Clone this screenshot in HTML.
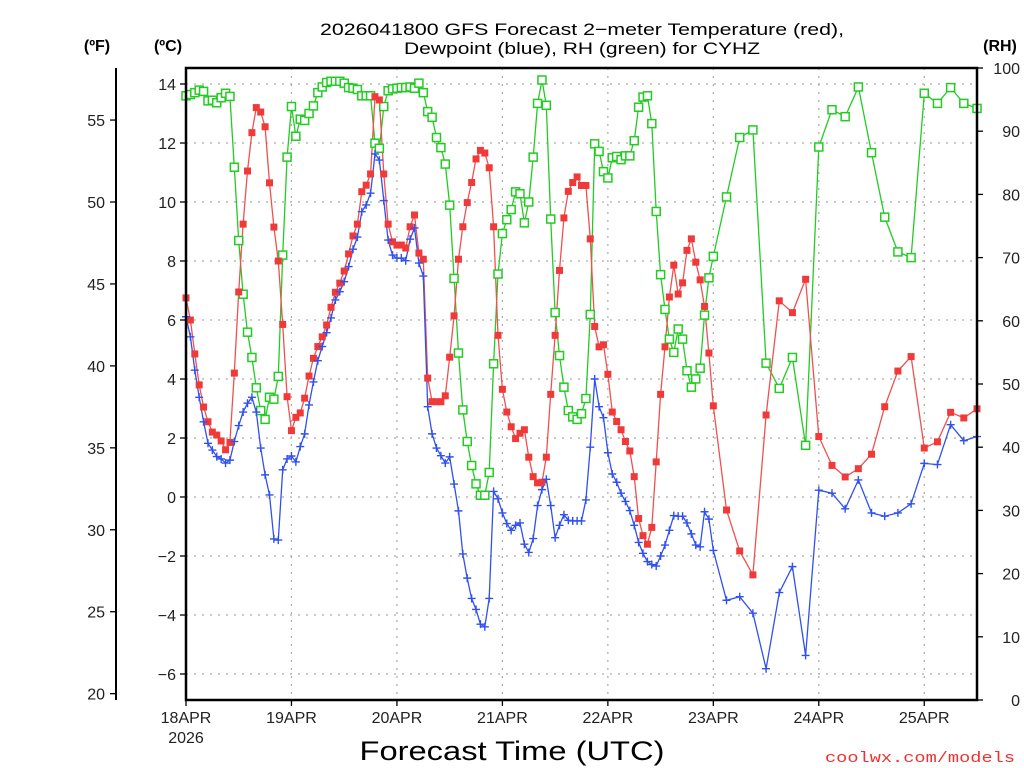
<!DOCTYPE html>
<html><head><meta charset="utf-8"><style>
html,body{margin:0;padding:0;background:#fff;}
svg{display:block;font-family:"Liberation Sans","DejaVu Sans",sans-serif;}
</style></head><body>
<svg id="chart" width="1024" height="768" viewBox="0 0 1024 768" xmlns="http://www.w3.org/2000/svg">
<rect x="0" y="0" width="1024" height="768" fill="#fff"/>
<g id="grid"></g>
<g id="series"></g>
<g id="axes"></g>
<text x="582" y="35" text-anchor="middle" font-size="17" textLength="524" lengthAdjust="spacingAndGlyphs" fill="#000">2026041800 GFS Forecast 2−meter Temperature (red),</text>
<text x="582" y="54" text-anchor="middle" font-size="17" textLength="356" lengthAdjust="spacingAndGlyphs" fill="#000">Dewpoint (blue), RH (green) for CYHZ</text>
<text x="97" y="51" text-anchor="middle" font-size="16" font-weight="bold" fill="#000">(ºF)</text>
<text x="168" y="51" text-anchor="middle" font-size="16" font-weight="bold" fill="#000">(ºC)</text>
<text x="1000" y="51" text-anchor="middle" font-size="16" font-weight="bold" fill="#000">(RH)</text>
<text x="512" y="760" text-anchor="middle" font-size="27" textLength="305" lengthAdjust="spacingAndGlyphs" fill="#000">Forecast Time (UTC)</text>
<text x="1015" y="762" text-anchor="end" font-size="15" font-family="Liberation Mono, monospace" textLength="190" lengthAdjust="spacingAndGlyphs" fill="#f03030">coolwx.com/models</text>
</svg>
<script>
const hours = [0,1,2,3,4,5,6,7,8,9,10,11,12,13,14,15,16,17,18,19,20,21,22,23,24,25,26,27,28,29,30,31,32,33,34,35,36,37,38,39,40,41,42,43,44,45,46,47,48,49,50,51,52,53,54,55,56,57,58,59,60,61,62,63,64,65,66,67,68,69,70,71,72,73,74,75,76,77,78,79,80,81,82,83,84,85,86,87,88,89,90,91,92,93,94,95,96,97,98,99,100,101,102,103,104,105,106,107,108,109,110,111,112,113,114,115,116,117,118,119,120,123,126,129,132,135,138,141,144,147,150,153,156,159,162,165,168,171,174,177,180];
const tempC = [6.75,6.0,4.85,3.8,3.05,2.55,2.2,2.1,1.9,1.6,1.85,4.2,6.95,9.25,11.05,12.35,13.2,13.05,12.55,10.65,9.15,8.0,5.85,3.4,2.25,2.7,2.85,3.35,4.1,4.7,5.1,5.43,5.83,6.43,6.94,7.25,7.66,8.24,8.85,9.25,10.35,10.57,10.95,13.57,13.46,10.95,9.25,8.65,8.54,8.54,8.44,9.16,9.56,8.27,8.06,4.03,3.23,3.23,3.23,3.43,4.74,6.14,8.06,9.16,9.98,10.66,11.46,11.75,11.66,11.16,9.16,5.48,3.65,2.88,2.38,1.98,2.16,2.28,1.35,0.69,0.48,0.5,1.35,3.48,5.48,7.68,9.46,10.36,10.66,10.85,10.56,10.56,8.75,5.78,5.09,5.16,4.16,2.88,2.56,2.28,1.88,1.56,0.69,-0.73,-1.31,-1.6,-1.03,1.19,3.48,5.09,6.78,7.86,6.88,7.26,8.36,8.75,7.96,7.36,6.46,4.88,3.09,-0.44,-1.83,-2.64,2.78,6.65,6.25,7.38,2.05,1.07,0.68,0.96,1.45,3.06,4.27,4.76,1.66,1.87,2.87,2.68,2.99];
const dewC = [6.11,5.43,4.3,3.38,2.55,1.82,1.59,1.37,1.29,1.15,1.25,1.88,2.42,2.88,3.18,3.38,2.88,1.66,0.75,0.07,-1.42,-1.46,0.92,1.29,1.39,1.19,1.71,2.14,3.12,3.9,4.62,5.1,5.57,6.07,6.68,6.96,7.3,7.81,8.4,8.81,9.67,9.9,10.3,11.63,11.42,10.05,8.71,8.2,8.1,8.1,8.01,8.74,9.12,7.93,7.49,3.06,2.14,1.66,1.4,1.15,1.36,0.44,-0.47,-1.93,-2.75,-3.44,-3.81,-4.31,-4.4,-3.44,0.19,-0.06,-0.54,-0.9,-1.13,-0.96,-0.88,-1.6,-1.88,-1.41,-0.29,0.25,0.6,-0.29,-1.38,-0.96,-0.6,-0.79,-0.81,-0.81,-0.81,-0.1,1.69,4.0,3.06,2.69,1.5,0.78,0.5,0.13,-0.15,-0.46,-0.96,-1.54,-1.91,-2.19,-2.29,-2.34,-2.0,-1.63,-1.13,-0.63,-0.65,-0.65,-0.88,-1.25,-1.63,-1.69,-0.5,-0.75,-1.81,-3.5,-3.38,-3.94,-5.82,-3.24,-2.36,-5.37,0.23,0.13,-0.4,0.58,-0.54,-0.65,-0.54,-0.23,1.14,1.1,2.45,1.91,2.05];
const rhPct = [95.6,95.8,96.1,96.5,96.3,94.8,94.9,94.5,95.3,96.0,95.5,84.3,72.7,64.2,58.2,54.2,49.4,45.8,44.4,47.9,47.6,51.2,70.4,85.9,93.9,89.2,91.9,91.7,92.8,94.0,96.1,97.0,97.7,97.9,97.9,97.9,97.6,96.9,96.8,96.6,95.6,95.6,95.6,88.1,87.3,93.9,96.4,96.7,96.8,96.9,96.9,97.0,96.8,97.6,96.1,93.1,92.2,89.0,87.4,84.8,78.3,66.7,54.9,45.9,40.9,37.1,34.2,32.4,32.4,36.0,53.2,67.4,73.8,76.0,77.6,80.4,80.1,75.5,78.8,85.9,94.4,98.1,94.1,76.1,61.3,54.5,49.5,45.8,44.8,44.4,45.3,47.7,61.0,88.0,86.8,83.6,82.6,85.8,86.0,85.5,86.1,86.1,88.5,93.8,95.4,95.6,91.2,77.3,67.3,61.8,57.1,55.0,58.7,57.1,52.1,49.5,50.8,52.5,60.9,66.8,70.2,79.6,89.0,90.2,53.3,49.3,54.2,40.3,87.5,93.4,92.3,97.0,86.6,76.4,70.9,70.0,96.0,94.4,96.9,94.4,93.6];
const dayLabels = ["18APR","19APR","20APR","21APR","22APR","23APR","24APR","25APR"];
const celsiusTicks = [14,12,10,8,6,4,2,0,-2,-4,-6];
const fahrenheitTicks = [55,50,45,40,35,30,25,20];
const rhTicks = [100,90,80,70,60,50,40,30,20,10,0];

const NS = "http://www.w3.org/2000/svg";
const L = 186, R = 977, T = 68, B = 700;
const xScale = h => L + (h / 180) * (R - L);
const yC = c => 497 - c * 29.5;
const yRH = r => B - r * (B - T) / 100;
const yF = f => yC((f - 32) * 5 / 9);
function mk(tag, attrs, parent) {
  const el = document.createElementNS(NS, tag);
  for (const k in attrs) el.setAttribute(k, attrs[k]);
  parent.appendChild(el);
  return el;
}
const grid = document.getElementById('grid');
const series = document.getElementById('series');
const axes = document.getElementById('axes');

// grid
celsiusTicks.forEach(c => {
  const g = mk('line', {x1: L, x2: R, y1: yC(c), y2: yC(c), stroke: '#aaa', 'stroke-width': 1.2, 'stroke-dasharray': '2 6'}, grid);
  
  
});
dayLabels.forEach((d, i) => {
  const x = xScale(i * 24);
  if (i > 0) {
    const g = mk('line', {x1: x, x2: x, y1: T, y2: B, stroke: '#aaa', 'stroke-width': 1.2, 'stroke-dasharray': '2 6'}, grid);
    
    
  }
});

// series
function drawLine(vals, yf, color, name) {
  const pts = vals.map((v, i) => xScale(hours[i]).toFixed(1) + ',' + yf(v).toFixed(1)).join(' ');
  const p = mk('polyline', {points: pts, fill: 'none', stroke: color, 'stroke-width': 1.3}, series);
  
  
}
drawLine(rhPct, yRH, '#22cc22', 'rh-line');
drawLine(tempC, yC, '#f05050', 'temperature-line');
drawLine(dewC, yC, '#3050f0', 'dewpoint-line');

rhPct.forEach((v, i) => {
  const x = xScale(hours[i]), y = yRH(v);
  const m = mk('rect', {x: x - 4, y: y - 4, width: 8, height: 8, fill: '#fff', stroke: '#22cc22', 'stroke-width': 1.5}, series);
  
  
});
tempC.forEach((v, i) => {
  const x = xScale(hours[i]), y = yC(v);
  const m = mk('rect', {x: x - 3.5, y: y - 3.5, width: 7, height: 7, fill: '#f03a3a'}, series);
  
  
});
dewC.forEach((v, i) => {
  const x = xScale(hours[i]), y = yC(v);
  const m = mk('path', {d: `M${x-4},${y}H${x+4}M${x},${y-4}V${y+4}`, stroke: '#3050f0', 'stroke-width': 1.4, fill: 'none'}, series);
  
  
});

// frame
const frame = mk('rect', {x: L, y: T, width: R - L, height: B - T, fill: 'none', stroke: '#000', 'stroke-width': 2.5}, axes);


const fAxis = mk('line', {x1: 116, x2: 116, y1: T, y2: B, stroke: '#000', 'stroke-width': 2}, axes);



celsiusTicks.forEach(c => {
  const y = yC(c);
  const t = mk('line', {x1: L - 6, x2: L, y1: y, y2: y, stroke: '#000', 'stroke-width': 1.3}, axes);
  
  
  const tx = mk('text', {x: 176, y: y + 6, 'text-anchor': 'end', 'font-size': 16, fill: '#222'}, axes);
  tx.textContent = c < 0 ? '−' + Math.abs(c) : String(c);
  
  
});
fahrenheitTicks.forEach(f => {
  const y = yF(f);
  const t = mk('line', {x1: 110, x2: 116, y1: y, y2: y, stroke: '#000', 'stroke-width': 1.3}, axes);
  
  
  const tx = mk('text', {x: 105, y: y + 6, 'text-anchor': 'end', 'font-size': 16, fill: '#222'}, axes);
  tx.textContent = String(f);
  
  
});
rhTicks.forEach(r => {
  const y = yRH(r);
  const t = mk('line', {x1: R, x2: R + 6, y1: y, y2: y, stroke: '#000', 'stroke-width': 1.3}, axes);
  
  
  const tx = mk('text', {x: 1020, y: y + 6, 'text-anchor': 'end', 'font-size': 16, fill: '#222'}, axes);
  tx.textContent = String(r);
  
  
});
dayLabels.forEach((d, i) => {
  const x = xScale(i * 24);
  const t = mk('line', {x1: x, x2: x, y1: B, y2: B + 6, stroke: '#000', 'stroke-width': 1.3}, axes);
  
  
  const tx = mk('text', {x: x, y: 723, 'text-anchor': 'middle', 'font-size': 16, fill: '#222'}, axes);
  tx.textContent = d;
  
  
});
const yr = mk('text', {x: xScale(0), y: 743, 'text-anchor': 'middle', 'font-size': 16, fill: '#222'}, axes);
yr.textContent = '2026';


</script>
</body></html>
